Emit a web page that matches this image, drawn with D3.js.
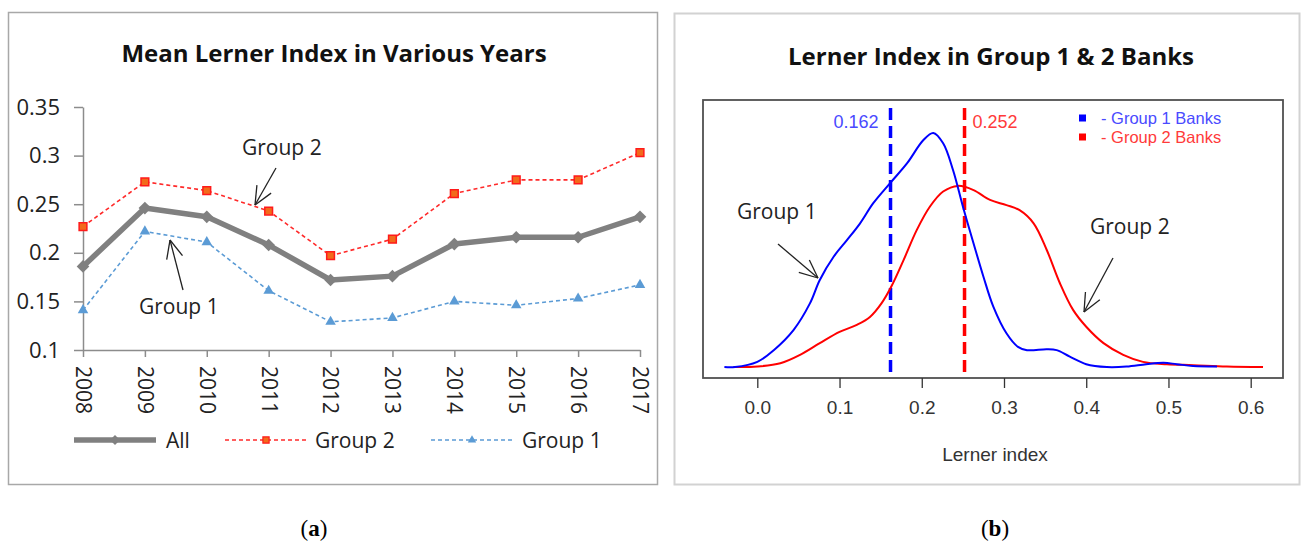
<!DOCTYPE html>
<html>
<head>
<meta charset="utf-8">
<script src="https://d3js.org/d3.v7.min.js"></script>
<style>
  body { margin: 0; background: #fff; }
  svg { display: block; }
</style>
</head>
<body>
<script>
// ---- panel (a): mean Lerner index per year
var years      = ["2008","2009","2010","2011","2012","2013","2014","2015","2016","2017"];
var allMean    = [0.186,0.246,0.237,0.208,0.172,0.176,0.209,0.216,0.216,0.237];
var group2Mean = [0.227,0.273,0.264,0.243,0.197,0.214,0.261,0.275,0.275,0.303];
var group1Mean = [0.141,0.222,0.211,0.161,0.129,0.133,0.150,0.146,0.153,0.167];
var yTicks     = [0.1,0.15,0.2,0.25,0.3,0.35];

// ---- panel (b): kernel densities
var g1DensX = [-0.040,-0.027,0.000,0.020,0.044,0.064,0.076,0.093,0.109,0.125,0.141,0.161,0.182,0.202,0.214,0.226,0.238,0.250,0.263,0.275,0.287,0.303,0.317,0.328,0.352,0.364,0.380,0.400,0.425,0.449,0.473,0.494,0.510,0.530,0.559];
var g1DensY = [0.00,0.00,0.11,0.36,0.79,1.36,1.86,2.36,2.71,3.07,3.50,3.92,4.35,4.85,5.00,4.78,4.21,3.43,2.64,1.93,1.29,0.72,0.43,0.36,0.38,0.36,0.22,0.06,0.00,0.01,0.06,0.09,0.06,0.02,0.01];
var g2DensX = [-0.029,0.000,0.028,0.052,0.076,0.100,0.121,0.137,0.151,0.163,0.178,0.194,0.210,0.226,0.244,0.263,0.283,0.303,0.319,0.336,0.352,0.368,0.384,0.400,0.421,0.445,0.469,0.498,0.530,0.571,0.615];
var g2DensY = [0.00,0.01,0.08,0.26,0.51,0.75,0.90,1.07,1.36,1.72,2.29,2.93,3.43,3.75,3.87,3.78,3.57,3.46,3.35,3.07,2.50,1.79,1.22,0.86,0.51,0.26,0.11,0.06,0.04,0.01,0.00];
var densTicks = [0.0,0.1,0.2,0.3,0.4,0.5,0.6];
var g1MeanLerner = 0.162;
var g2MeanLerner = 0.252;

var calibri = "'Open Sans', 'Noto Sans', sans-serif";
var arial = "'Liberation Sans', Arial, sans-serif";

var svg = d3.select("body").append("svg")
  .attr("width", 1301)
  .attr("height", 544);

// arrow with open V head, drawn as plain lines
function arrow(g, x1, y1, x2, y2) {
  var ang = Math.atan2(y2 - y1, x2 - x1);
  var len = 20, spread = 0.42;
  g.append("line").attr("x1", x1).attr("y1", y1).attr("x2", x2).attr("y2", y2);
  g.append("line").attr("x1", x2).attr("y1", y2)
    .attr("x2", x2 - len * Math.cos(ang - spread)).attr("y2", y2 - len * Math.sin(ang - spread));
  g.append("line").attr("x1", x2).attr("y1", y2)
    .attr("x2", x2 - len * Math.cos(ang + spread)).attr("y2", y2 - len * Math.sin(ang + spread));
}

/* ================= panel (a) ================= */
var pa = svg.append("g");
pa.append("rect")
  .attr("x", 8.5).attr("y", 12.5).attr("width", 649).attr("height", 472)
  .attr("fill", "none").attr("stroke", "#a8a8a8").attr("stroke-width", 1.5);

pa.append("text")
  .attr("x", 334).attr("y", 62)
  .attr("text-anchor", "middle")
  .style("font-family", calibri).style("font-weight", "bold").style("font-size", "24px")
  .attr("fill", "#111")
  .text("Mean Lerner Index in Various Years");

var x = d3.scalePoint().domain(years).range([83, 640]);
var y = d3.scaleLinear().domain([0.1, 0.35]).range([350, 107]);

var yAxis = pa.append("g")
  .attr("transform", "translate(83,0)")
  .call(d3.axisLeft(y).tickValues(yTicks).tickFormat(d3.format("~g")).tickSize(9).tickSizeOuter(0).tickPadding(14));
var xAxis = pa.append("g")
  .attr("transform", "translate(0,350)")
  .call(d3.axisBottom(x).tickSize(7).tickSizeOuter(0));

[yAxis, xAxis].forEach(function(ax) {
  ax.select(".domain").attr("stroke", "#8c8c8c").attr("stroke-width", 1.5);
  ax.selectAll(".tick line").attr("stroke", "#8c8c8c").attr("stroke-width", 1.5);
  ax.selectAll("text").style("font-family", calibri).style("font-size", "21px").attr("fill", "#222");
});
yAxis.selectAll("text").style("font-size", "22px");
xAxis.selectAll("text")
  .attr("x", 16).attr("y", 0).attr("dy", "0.36em")
  .attr("transform", "rotate(90)")
  .style("text-anchor", "start");

var line = d3.line()
  .x(function(d, i) { return x(years[i]); })
  .y(function(d) { return y(d); });

// Group 2
pa.append("path").datum(group2Mean)
  .attr("d", line).attr("fill", "none")
  .attr("stroke", "#ff2a2a").attr("stroke-width", 1.6).attr("stroke-dasharray", "4,3");
// Group 1
pa.append("path").datum(group1Mean)
  .attr("d", line).attr("fill", "none")
  .attr("stroke", "#5b9bd5").attr("stroke-width", 1.6).attr("stroke-dasharray", "4,3");
// All
pa.append("path").datum(allMean)
  .attr("d", line).attr("fill", "none")
  .attr("stroke", "#808080").attr("stroke-width", 5.5).attr("stroke-linejoin", "round");

var diamond = d3.symbol().type(d3.symbolSquare).size(80);
var square = d3.symbol().type(d3.symbolSquare).size(60);
var tri = d3.symbol().type(d3.symbolTriangle).size(48);

pa.selectAll(".mAll").data(allMean).enter().append("path")
  .attr("d", diamond)
  .attr("transform", function(d, i) { return "translate(" + x(years[i]) + "," + y(d) + ") rotate(45)"; })
  .attr("fill", "#808080");
pa.selectAll(".mG2").data(group2Mean).enter().append("path")
  .attr("d", square)
  .attr("transform", function(d, i) { return "translate(" + x(years[i]) + "," + y(d) + ")"; })
  .attr("fill", "#f26a1b").attr("stroke", "#ff1a1a").attr("stroke-width", 1.5);
pa.selectAll(".mG1").data(group1Mean).enter().append("path")
  .attr("d", tri)
  .attr("transform", function(d, i) { return "translate(" + x(years[i]) + "," + y(d) + ")"; })
  .attr("fill", "#5b9bd5");

// annotations
var annA = pa.append("g").attr("stroke", "#222").attr("stroke-width", 1.3);
arrow(annA, 276, 168, 255, 205);
arrow(annA, 183, 290, 170, 240);
pa.append("text").attr("x", 242).attr("y", 155)
  .style("font-family", calibri).style("font-size", "21px").attr("fill", "#222")
  .text("Group 2");
pa.append("text").attr("x", 139).attr("y", 314)
  .style("font-family", calibri).style("font-size", "21px").attr("fill", "#222")
  .text("Group 1");

// legend
var legA = [
  {name: "All", x0: 74, color: "#808080", width: 5.5, dash: null, sym: diamond, rot: 45, fill: "#808080", stroke: "none", tx: 166},
  {name: "Group 2", x0: 225, color: "#ff2a2a", width: 1.6, dash: "4,3", sym: square, rot: 0, fill: "#f26a1b", stroke: "#ff1a1a", tx: 315},
  {name: "Group 1", x0: 431, color: "#5b9bd5", width: 1.6, dash: "4,3", sym: tri, rot: 0, fill: "#5b9bd5", stroke: "none", tx: 522}
];
legA.forEach(function(l) {
  pa.append("line")
    .attr("x1", l.x0).attr("x2", l.x0 + 82).attr("y1", 440).attr("y2", 440)
    .attr("stroke", l.color).attr("stroke-width", l.width).attr("stroke-dasharray", l.dash);
  pa.append("path").attr("d", l.sym)
    .attr("transform", "translate(" + (l.x0 + 41) + ",440) rotate(" + l.rot + ") scale(0.8)")
    .attr("fill", l.fill).attr("stroke", l.stroke).attr("stroke-width", 1.5);
  pa.append("text").attr("x", l.tx).attr("y", 440).attr("dy", "0.36em")
    .style("font-family", calibri).style("font-size", "21px").attr("fill", "#222")
    .text(l.name);
});

/* ================= panel (b) ================= */
var pb = svg.append("g");
pb.append("rect")
  .attr("x", 674.5).attr("y", 13.5).attr("width", 625).attr("height", 471)
  .attr("fill", "none").attr("stroke", "#d2d2d2").attr("stroke-width", 2);

pb.append("text")
  .attr("x", 991).attr("y", 65)
  .attr("text-anchor", "middle")
  .style("font-family", calibri).style("font-weight", "bold").style("font-size", "24px")
  .attr("fill", "#111")
  .text("Lerner Index in Group 1 & 2 Banks");

var xd = d3.scaleLinear().domain([0, 0.6]).range([757.3, 1250.7]);
var yd = d3.scaleLinear().domain([0, 5]).range([367, 133]);

var boxTop = 100, boxBottom = 378;
pb.append("rect")
  .attr("x", 703).attr("y", boxTop).attr("width", 580).attr("height", boxBottom - boxTop)
  .attr("fill", "none").attr("stroke", "#505050").attr("stroke-width", 1.8);

var xdAxis = pb.append("g")
  .attr("transform", "translate(0," + boxBottom + ")")
  .call(d3.axisBottom(xd).tickValues(densTicks).tickFormat(d3.format(".1f")).tickSize(10).tickSizeOuter(0).tickPadding(13));
xdAxis.select(".domain").remove();
xdAxis.selectAll(".tick line").attr("stroke", "#333").attr("stroke-width", 1.3);
xdAxis.selectAll("text").style("font-family", arial).style("font-size", "19px").attr("fill", "#333");

pb.append("text").attr("x", 995).attr("y", 454).attr("dy", "0.35em")
  .attr("text-anchor", "middle")
  .style("font-family", arial).style("font-size", "19px").attr("fill", "#333")
  .text("Lerner index");

// mean lines
pb.append("line")
  .attr("x1", xd(g1MeanLerner)).attr("x2", xd(g1MeanLerner)).attr("y1", boxTop + 8).attr("y2", boxBottom)
  .attr("stroke", "#0000ff").attr("stroke-width", 3.5).attr("stroke-dasharray", "12,6");
pb.append("line")
  .attr("x1", xd(g2MeanLerner)).attr("x2", xd(g2MeanLerner)).attr("y1", boxTop + 8).attr("y2", boxBottom)
  .attr("stroke", "#ff0000").attr("stroke-width", 3.5).attr("stroke-dasharray", "12,6");
pb.append("text").attr("x", xd(g1MeanLerner) - 12).attr("y", 122).attr("dy", "0.35em")
  .attr("text-anchor", "end")
  .style("font-family", arial).style("font-size", "18px").attr("fill", "#4a4aff")
  .text(d3.format(".3f")(g1MeanLerner));
pb.append("text").attr("x", xd(g2MeanLerner) + 8).attr("y", 122).attr("dy", "0.35em")
  .style("font-family", arial).style("font-size", "18px").attr("fill", "#ff3a3a")
  .text(d3.format(".3f")(g2MeanLerner));

// density curves
var densLine = d3.line()
  .x(function(d) { return xd(d[0]); })
  .y(function(d) { return yd(d[1]); })
  .curve(d3.curveCatmullRom);
pb.append("path").datum(d3.zip(g2DensX, g2DensY))
  .attr("d", densLine).attr("fill", "none").attr("stroke", "#ff0000").attr("stroke-width", 2);
pb.append("path").datum(d3.zip(g1DensX, g1DensY))
  .attr("d", densLine).attr("fill", "none").attr("stroke", "#0000ff").attr("stroke-width", 2);

// legend
var legB = [
  {name: "- Group 1 Banks", color: "#0000ff", text: "#4a4aff", y: 118},
  {name: "- Group 2 Banks", color: "#ff0000", text: "#ff3a3a", y: 137}
];
legB.forEach(function(l) {
  pb.append("rect").attr("x", 1079).attr("y", l.y - 3.5).attr("width", 7).attr("height", 7).attr("fill", l.color);
  pb.append("text").attr("x", 1101).attr("y", l.y).attr("dy", "0.35em")
    .style("font-family", arial).style("font-size", "16.5px").attr("fill", l.text)
    .text(l.name);
});

// annotations
var annB = pb.append("g").attr("stroke", "#222").attr("stroke-width", 1.3);
arrow(annB, 778, 244, 818, 278);
arrow(annB, 1113, 258, 1084, 312);
pb.append("text").attr("x", 737).attr("y", 219)
  .style("font-family", calibri).style("font-size", "21px").attr("fill", "#222")
  .text("Group 1");
pb.append("text").attr("x", 1090).attr("y", 234)
  .style("font-family", calibri).style("font-size", "21px").attr("fill", "#222")
  .text("Group 2");

// panel captions
[{t: "a", x: 314}, {t: "b", x: 995}].forEach(function(c) {
  var tx = svg.append("text").attr("x", c.x).attr("y", 536).attr("text-anchor", "middle")
    .style("font-family", "'Liberation Serif', 'DejaVu Serif', serif").style("font-size", "23px").attr("fill", "#000");
  tx.append("tspan").text("(");
  tx.append("tspan").style("font-weight", "bold").text(c.t);
  tx.append("tspan").text(")");
});
</script>
</body>
</html>
